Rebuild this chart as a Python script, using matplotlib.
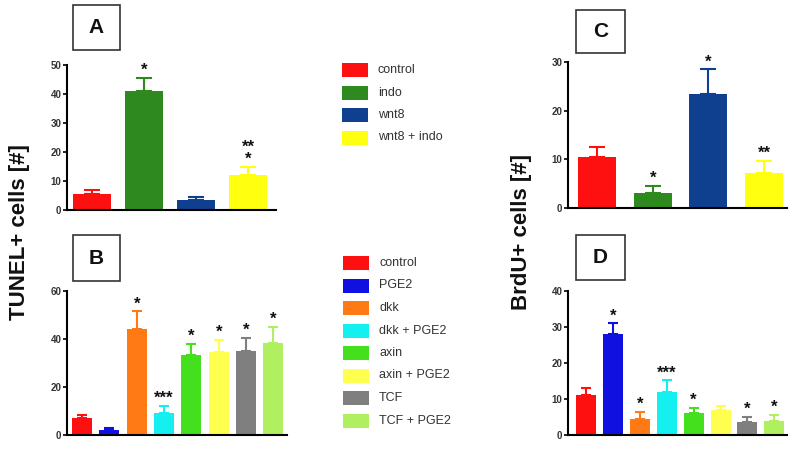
import matplotlib
matplotlib.use("Agg")
import matplotlib.pyplot as plt
from matplotlib.patches import Rectangle

plt.rcParams['font.family'] = ['Liberation Sans', 'DejaVu Sans']

# ---- data ----
labels_ac = ["control", "indo", "wnt8", "wnt8 + indo"]
colors_ac = ["#ff1010", "#2e8a1e", "#0f3f8f", "#ffff10"]
tunel_a = [5.5, 41, 3.5, 12]
tunel_a_err = [1.5, 4.5, 1.0, 2.8]
tunel_a_sig = ["", "*", "", "**\n*"]

labels_bd = ["control", "PGE2", "dkk", "dkk + PGE2", "axin", "axin + PGE2", "TCF", "TCF + PGE2"]
colors_bd = ["#ff1010", "#1010e0", "#ff7a14", "#14f0f0", "#44e01e", "#ffff50", "#7f7f7f", "#b0f060"]
tunel_b = [7, 2, 44, 9, 33.5, 34.5, 35, 38.5]
tunel_b_err = [1.5, 1.0, 7.5, 3.0, 4.5, 5.0, 5.5, 6.5]
tunel_b_sig = ["", "", "*", "***", "*", "*", "*", "*"]

brdu_c = [10.5, 3, 23.5, 7.2]
brdu_c_err = [2.0, 1.5, 5.0, 2.5]
brdu_c_sig = ["", "*", "*", "**"]

brdu_d = [11, 28, 4.5, 12, 6, 7, 3.5, 4]
brdu_d_err = [2.0, 3.0, 2.0, 3.2, 1.5, 1.0, 1.5, 1.5]
brdu_d_sig = ["", "*", "*", "***", "*", "", "*", "*"]

W, H = 800, 454
fig = plt.figure(figsize=(8, 4.54), dpi=100)

def ax_px(l, r, b, t):
    return fig.add_axes([l / W, 1 - b / H, (r - l) / W, (b - t) / H])

def panel(ax, vals, errs, cols, sigs, ylim, yticks, xlim, width, capsize):
    x = list(range(len(vals)))
    ax.bar(x, vals, width=width, color=cols, zorder=2)
    for xi, v, e, c in zip(x, vals, errs, cols):
        ax.errorbar([xi], [v], yerr=[[0], [e]], fmt='none', ecolor=c,
                    elinewidth=1.5, capsize=capsize, capthick=1.5, zorder=3)
    for xi, v, e, s in zip(x, vals, errs, sigs):
        if s:
            ax.annotate(s, (xi, v + e), xytext=(0, 0), textcoords='offset points',
                        ha='center', va='bottom', fontsize=12, fontweight='bold',
                        color='#111111', linespacing=0.75)
    ax.set_ylim(*ylim)
    ax.set_xlim(*xlim)
    ax.set_yticks(yticks)
    ax.set_yticklabels([str(t) for t in yticks], fontsize=7, fontweight='bold', color='#333333')
    ax.set_xticks([])
    for sp in ['top', 'right']:
        ax.spines[sp].set_visible(False)
    for sp in ['left', 'bottom']:
        ax.spines[sp].set_linewidth(1.5)
    ax.tick_params(axis='y', direction='out', length=3, width=1.2, pad=1)

axA = ax_px(67, 276, 210, 65)
panel(axA, tunel_a, tunel_a_err, colors_ac, tunel_a_sig, (0, 50), [0, 10, 20, 30, 40, 50],
      (-0.48, 3.54), 0.73, 5.5)
axB = ax_px(67, 287, 435, 291)
panel(axB, tunel_b, tunel_b_err, colors_bd, tunel_b_sig, (0, 60), [0, 20, 40, 60],
      (-0.55, 7.5), 0.73, 3.6)
axC = ax_px(568, 787, 208, 62)
panel(axC, brdu_c, brdu_c_err, colors_ac, brdu_c_sig, (0, 30), [0, 10, 20, 30],
      (-0.52, 3.41), 0.68, 5.5)
axD = ax_px(568, 787, 435, 291)
panel(axD, brdu_d, brdu_d_err, colors_bd, brdu_d_sig, (0, 40), [0, 10, 20, 30, 40],
      (-0.67, 7.47), 0.74, 3.6)

# panel letter boxes
def letter_box(l, t, r, b, txt):
    fig.add_artist(Rectangle((l / W, 1 - b / H), (r - l) / W, (b - t) / H,
                             transform=fig.transFigure, fill=False, lw=1.2,
                             edgecolor='#333333'))
    fig.text((l + r) / 2 / W, 1 - (t + b) / 2 / H, txt, ha='center', va='center',
             fontsize=15, fontweight='bold', color='#111111')

letter_box(73, 5, 120, 50, "A")
letter_box(73, 235, 120, 281, "B")
letter_box(576, 10, 625, 53, "C")
letter_box(576, 235, 625, 280, "D")

# y labels
fig.text(20 / W, 1 - 232 / H, "TUNEL+ cells [#]", rotation=90, ha='center', va='center',
         fontsize=16, fontweight='bold', color='#111111')
fig.text(521 / W, 1 - 232 / H, "BrdU+ cells [#]", rotation=90, ha='center', va='center',
         fontsize=16, fontweight='bold', color='#111111')

# legends
def legend(items, cols, x0, y0, dy):
    for i, (lab, c) in enumerate(zip(items, cols)):
        y = y0 + i * dy
        fig.add_artist(Rectangle((x0 / W, 1 - (y + 7) / H), 26 / W, 14 / H,
                                 transform=fig.transFigure, color=c, lw=0))
        fig.text((x0 + 36) / W, 1 - y / H, lab, ha='left', va='center',
                 fontsize=9, color='#333333')

legend(labels_ac, colors_ac, 342, 70, 22.5)
legend(labels_bd, colors_bd, 343, 263, 22.5)

fig.savefig("out.png", dpi=100)
